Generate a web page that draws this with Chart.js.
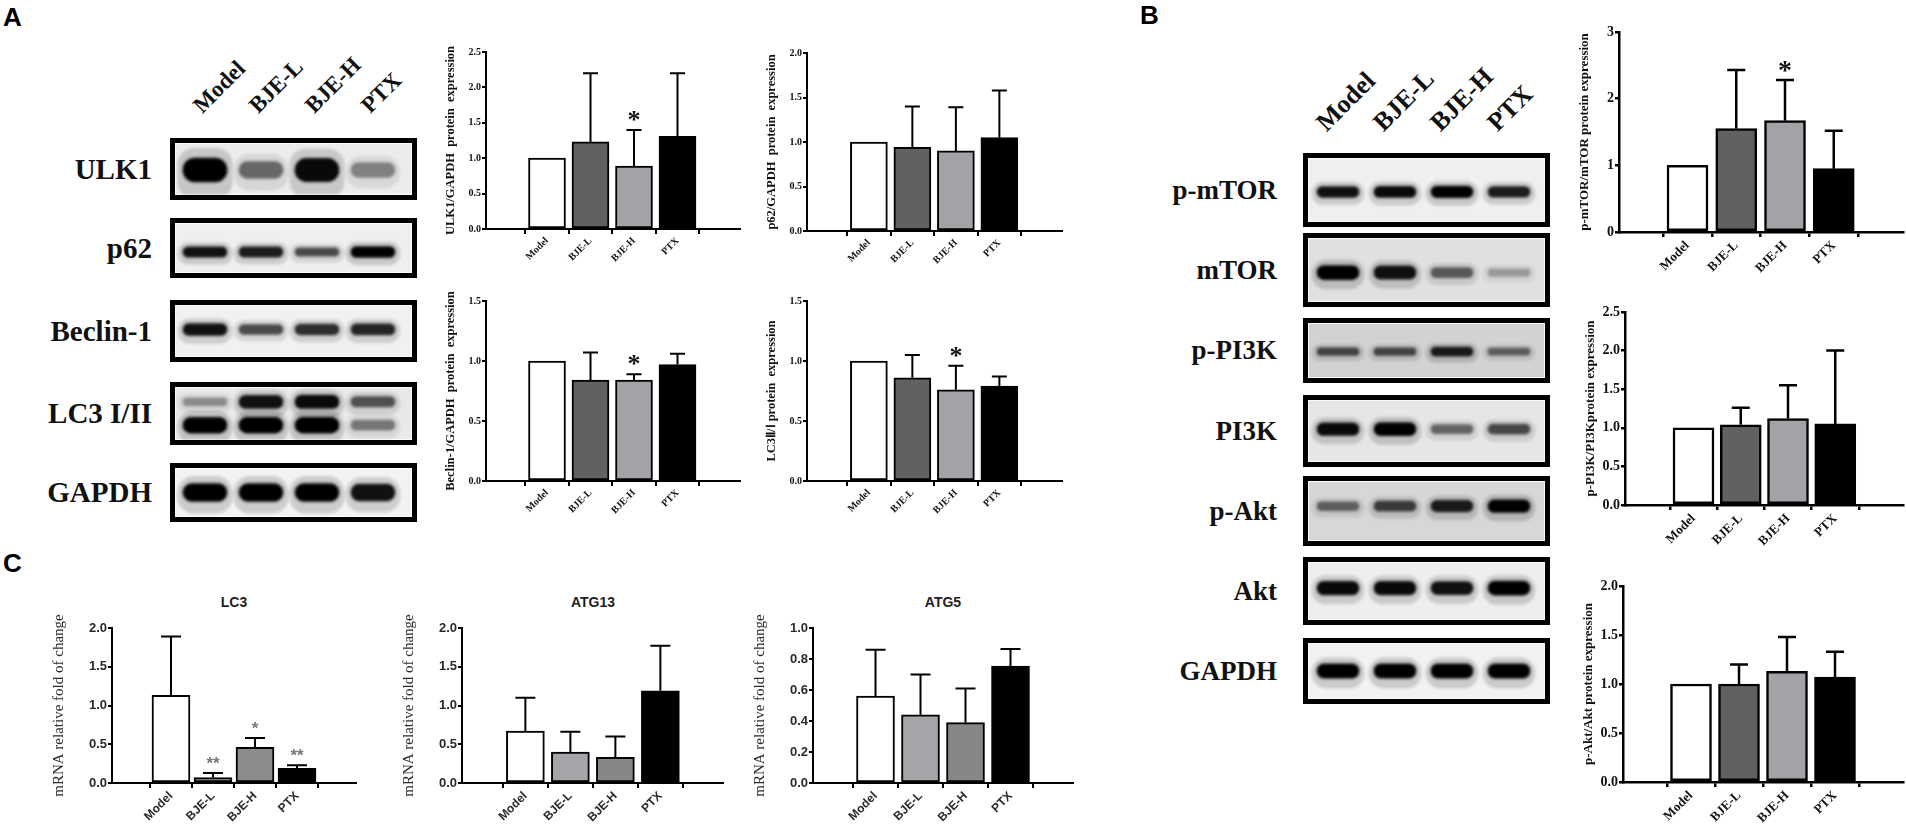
<!DOCTYPE html>
<html>
<head>
<meta charset="utf-8">
<script src="https://cdn.jsdelivr.net/npm/chart.js@4.4.0/dist/chart.umd.min.js"></script>
<style>
body { margin: 0; background: #fff; }
#page { position: relative; width: 1906px; height: 826px; overflow: hidden; background: #fff; }
.abs { position: absolute; }
.panel { font-family: "Liberation Sans", Arial, sans-serif; font-weight: bold; font-size: 26px; line-height: 26px; color: #000; }
.prot { font-family: "Liberation Serif", "Times New Roman", serif; font-weight: bold; text-align: right; white-space: nowrap; color: #111; }
.lane { font-family: "Liberation Serif", "Times New Roman", serif; font-weight: bold; white-space: nowrap; color: #111;
        transform: rotate(-45deg); transform-origin: 0 100%; }
.blot { box-sizing: border-box; border: 5px solid #000; box-shadow: inset 0 0 0 1px #fafafa; overflow: hidden; }
.blot canvas { filter: blur(1.8px); }
.ctitle { font-family: "Liberation Sans", Arial, sans-serif; font-weight: bold; font-size: 14px; line-height: 16px;
          color: #222; transform: translateX(-50%); white-space: nowrap; }
</style>
</head>
<body>
<div id="page"></div>
<script>
// groups on every x axis
const groups = ['Model', 'BJE-L', 'BJE-H', 'PTX'];

// A - protein / GAPDH ratios (mean, SD, significance)
const ulk1Mean = [1.0, 1.23, 0.89, 1.31];
const ulk1Err = [0, 0.97, 0.51, 0.89];
const ulk1Sig = ['', '', '*', ''];
const p62Mean = [1.0, 0.94, 0.90, 1.05];
const p62Err = [0, 0.46, 0.49, 0.53];
const p62Sig = ['', '', '', ''];
const beclinMean = [1.0, 0.84, 0.84, 0.97];
const beclinErr = [0, 0.23, 0.05, 0.09];
const beclinSig = ['', '', '*', ''];
const lc3RatioMean = [1.0, 0.86, 0.76, 0.79];
const lc3RatioErr = [0, 0.19, 0.20, 0.08];
const lc3RatioSig = ['', '', '*', ''];

// B - phospho / total ratios
const mtorMean = [1.0, 1.55, 1.67, 0.95];
const mtorErr = [0, 0.88, 0.61, 0.57];
const mtorSig = ['', '', '*', ''];
const pi3kMean = [1.0, 1.04, 1.12, 1.05];
const pi3kErr = [0, 0.22, 0.43, 0.95];
const pi3kSig = ['', '', '', ''];
const aktMean = [1.0, 1.0, 1.13, 1.07];
const aktErr = [0, 0.20, 0.35, 0.26];
const aktSig = ['', '', '', ''];

// C - mRNA relative fold of change
const lc3mMean = [1.13, 0.07, 0.46, 0.19];
const lc3mErr = [0.76, 0.06, 0.12, 0.04];
const lc3mSig = ['', '**', '*', '**'];
const atg13Mean = [0.67, 0.40, 0.33, 1.19];
const atg13Err = [0.43, 0.26, 0.27, 0.58];
const atg13Sig = ['', '', '', ''];
const atg5Mean = [0.56, 0.44, 0.39, 0.755];
const atg5Err = [0.30, 0.26, 0.22, 0.11];
const atg5Sig = ['', '', '', ''];

// western blot band intensities per lane (0 = none, 1 = saturated)
const bandULK1 = [1.0, 0.45, 0.95, 0.30];
const bandP62 = [0.90, 0.85, 0.60, 1.0];
const bandBeclin = [0.90, 0.60, 0.75, 0.80];
const bandLC3I = [0.25, 0.90, 0.95, 0.55];
const bandLC3II = [1.0, 1.0, 1.0, 0.35];
const bandGapdhA = [1.0, 1.0, 1.0, 0.90];
const bandPmTOR = [0.90, 0.95, 1.0, 0.85];
const bandMTOR = [1.0, 0.90, 0.50, 0.15];
const bandPPI3K = [0.60, 0.60, 0.85, 0.45];
const bandPI3K = [0.95, 1.0, 0.45, 0.60];
const bandPAkt = [0.45, 0.65, 0.85, 1.0];
const bandAkt = [0.95, 0.95, 0.90, 1.0];
const bandGapdhB = [1.0, 1.0, 1.0, 1.0];

const page = document.getElementById('page');
const SERIF = "'Liberation Serif', 'Times New Roman', serif";
const SANS = "'Liberation Sans', Arial, sans-serif";
Chart.defaults.font.family = SERIF;

function addText(cls, text, css) {
    const d = document.createElement('div');
    d.className = 'abs ' + cls;
    d.textContent = text;
    Object.assign(d.style, css);
    page.appendChild(d);
    return d;
}

// error bars + significance marks, drawn with the chart's own y scale
const errorBars = {
    id: 'errorBars',
    afterDatasetsDraw(chart) {
        const ds = chart.data.datasets[0];
        const ys = chart.scales.y;
        const ctx = chart.ctx;
        ctx.save();
        chart.getDatasetMeta(0).data.forEach((bar, i) => {
            const err = ds.errors[i];
            const yTop = ys.getPixelForValue(ds.means[i] + err);
            if (err > 0) {
                ctx.strokeStyle = '#000';
                ctx.lineWidth = ds.borderWidth;
                ctx.beginPath();
                ctx.moveTo(bar.x, bar.y);
                ctx.lineTo(bar.x, yTop);
                ctx.moveTo(bar.x - ds.cap / 2, yTop);
                ctx.lineTo(bar.x + ds.cap / 2, yTop);
                ctx.stroke();
            }
            if (ds.sig[i]) {
                ctx.fillStyle = ds.starColor;
                ctx.font = ds.starFont;
                ctx.textAlign = 'center';
                ctx.textBaseline = 'alphabetic';
                ctx.fillText(ds.sig[i], bar.x, yTop - ds.starGap);
            }
        });
        ctx.restore();
    }
};

function barChart(g, st, mean, err, sig, colors, yTitle) {
    const padTop = 14, padRight = 3;
    const W = g.right - g.axis + st.yW + padRight;
    const H = g.base - g.top + padTop + st.xH;
    const cv = document.createElement('canvas');
    cv.width = W; cv.height = H;
    cv.className = 'abs';
    cv.style.left = (g.axis - st.yW) + 'px';
    cv.style.top = (g.top - padTop) + 'px';
    page.appendChild(cv);
    const last = g.first + 3 * g.step;
    new Chart(cv, {
        type: 'bar',
        data: {
            datasets: [{
                data: mean.map((v, i) => ({ x: i, y: v })),
                means: mean,
                errors: err,
                sig: sig,
                backgroundColor: colors,
                borderColor: '#000',
                borderWidth: st.lw,
                borderSkipped: false,
                barThickness: st.barW,
                cap: st.cap,
                starFont: st.starFont,
                starColor: st.starColor,
                starGap: st.starGap
            }]
        },
        options: {
            responsive: false,
            animation: false,
            events: [],
            layout: { padding: { top: padTop, right: padRight, left: 0, bottom: 0 } },
            plugins: { legend: { display: false }, tooltip: { enabled: false } },
            scales: {
                x: {
                    type: 'linear',
                    min: -(g.first - g.axis) / g.step,
                    max: 3 + (g.right - last) / g.step,
                    afterBuildTicks: s => { s.ticks = [0, 1, 2, 3].map(v => ({ value: v })); },
                    afterFit: s => { s.height = st.xH; },
                    border: { color: '#000', width: st.lw },
                    grid: { drawOnChartArea: false, color: '#000', lineWidth: st.lw, tickLength: 5 },
                    ticks: {
                        autoSkip: false, maxRotation: 45, minRotation: 45, padding: 1,
                        color: st.color, font: { family: st.family, size: st.xFont, weight: 'bold' },
                        callback: v => groups[v]
                    }
                },
                y: {
                    min: 0, max: g.max,
                    afterFit: s => { s.width = st.yW; },
                    border: { color: '#000', width: st.lw },
                    grid: { drawOnChartArea: false, color: '#000', lineWidth: st.lw, tickLength: 4 },
                    ticks: {
                        stepSize: g.yStep, padding: 1, color: st.color,
                        font: { family: st.family, size: st.tickFont, weight: 'bold' },
                        callback: v => v.toFixed(g.dec)
                    },
                    title: {
                        display: true, text: yTitle, color: st.color, padding: 2,
                        font: { family: st.titleFamily, size: st.titleFont, weight: st.titleWeight }
                    }
                }
            }
        },
        plugins: [errorBars]
    });
}

function blot(bands, box, lay, bg) {
    const div = document.createElement('div');
    div.className = 'abs blot';
    Object.assign(div.style, { left: box.x + 'px', top: box.y + 'px', width: lay.w + 'px', height: box.h + 'px', background: bg });
    page.appendChild(div);
    const innerW = lay.w - 10, innerH = box.h - 10;
    const cv = document.createElement('canvas');
    cv.width = innerW; cv.height = innerH;
    div.appendChild(cv);
    const padL = lay.first - 1 - lay.step / 2;
    const padR = innerW - padL - 4 * lay.step;
    const sets = [];
    bands.forEach(b => {
        // faint smear round each band, then the band core
        sets.push({
            data: b.vals.map(v => { const h = b.t * (0.9 + 0.9 * v) / 2; return [b.c - h, b.c + h * 1.3]; }),
            backgroundColor: b.vals.map(v => 'rgba(0,0,0,' + (0.04 + 0.12 * v).toFixed(2) + ')'),
            borderWidth: 0, borderSkipped: false, borderRadius: 16,
            barThickness: lay.bandW + 10, grouped: false
        });
        sets.push({
            data: b.vals.map(v => { const h = b.t * (0.45 + 0.55 * v) / 2; return [b.c - h, b.c + h]; }),
            backgroundColor: b.vals.map(v => 'rgba(0,0,0,' + (0.15 + 0.85 * v).toFixed(2) + ')'),
            borderWidth: 0, borderSkipped: false, borderRadius: 14,
            barThickness: lay.bandW, grouped: false
        });
    });
    new Chart(cv, {
        type: 'bar',
        data: { labels: groups, datasets: sets },
        options: {
            responsive: false, animation: false, events: [],
            layout: { padding: { left: padL, right: padR, top: 0, bottom: 0 } },
            plugins: { legend: { display: false }, tooltip: { enabled: false } },
            scales: {
                x: { display: false, offset: true },
                y: { display: false, min: 0, max: 1, reverse: true }
            }
        }
    });
}

// ---------- styles per panel ----------
const colorsWB = ['#ffffff', '#616161', '#a3a3a7', '#000000'];
const colorsLC3 = ['#ffffff', '#8c8c8c', '#8c8c8c', '#000000'];
const colorsATG = ['#ffffff', '#a6a6aa', '#868686', '#000000'];

const stA = { yW: 45, xH: 44, lw: 2, barW: 37, cap: 15, family: SERIF, titleFamily: SERIF, titleWeight: 'bold',
              tickFont: 10, titleFont: 12.5, xFont: 10, color: '#111',
              starFont: 'bold 26px ' + SERIF, starColor: '#111', starGap: 2 };
const stB = { yW: 44, xH: 50, lw: 2.5, barW: 41, cap: 18, family: SERIF, titleFamily: SERIF, titleWeight: 'bold',
              tickFont: 14, titleFont: 13, xFont: 13, color: '#111',
              starFont: 'bold 28px ' + SERIF, starColor: '#111', starGap: 1 };
const stC = { yW: 64, xH: 43, lw: 2, barW: 38, cap: 20, family: SANS, titleFamily: SERIF, titleWeight: 'normal',
              tickFont: 13, titleFont: 15, xFont: 12, color: '#2a2a2a',
              starFont: 'bold 17px ' + SANS, starColor: '#777', starGap: 4 };

// ---------- panel A ----------
addText('panel', 'A', { left: '3px', top: '4px' });
const layA = { x: 170, w: 247, first: 31, step: 56, bandW: 44 };
const blotsA = [
    { name: 'ULK1', y: 138, h: 62, bg: '#ececec', bands: [{ vals: bandULK1, c: 0.52, t: 0.46 }] },
    { name: 'p62', y: 218, h: 60, bg: '#efefef', bands: [{ vals: bandP62, c: 0.58, t: 0.22 }] },
    { name: 'Beclin-1', y: 300, h: 62, bg: '#f1f1f1', bands: [{ vals: bandBeclin, c: 0.47, t: 0.24 }] },
    { name: 'LC3 I/II', y: 382, h: 63, bg: '#e9e9e9', bands: [{ vals: bandLC3I, c: 0.28, t: 0.26 }, { vals: bandLC3II, c: 0.72, t: 0.30 }] },
    { name: 'GAPDH', y: 463, h: 59, bg: '#f3f3f3', bands: [{ vals: bandGapdhA, c: 0.50, t: 0.36 }] }
];
blotsA.forEach(b => {
    blot(b.bands, { x: layA.x, y: b.y, h: b.h }, layA, b.bg);
    addText('prot', b.name, { right: (1906 - 152) + 'px', top: b.y + 'px', height: b.h + 'px', lineHeight: b.h + 'px', fontSize: '29px' });
});
groups.forEach((gname, i) => {
    const cx = layA.x + 4 + layA.first + i * layA.step;
    addText('lane', gname, { left: cx + 'px', top: (117 - 23) + 'px', fontSize: '23px', lineHeight: '23px' });
});

barChart({ axis: 486, top: 52, base: 229, first: 525, step: 58, right: 740, max: 2.5, yStep: 0.5, dec: 1 },
    stA, ulk1Mean, ulk1Err, ulk1Sig, colorsWB, 'ULK1/GAPDH  protein  expression');
barChart({ axis: 807, top: 53, base: 231, first: 847, step: 58, right: 1062, max: 2.0, yStep: 0.5, dec: 1 },
    stA, p62Mean, p62Err, p62Sig, colorsWB, 'p62/GAPDH  protein  expression');
barChart({ axis: 486, top: 301, base: 481, first: 525, step: 58, right: 740, max: 1.5, yStep: 0.5, dec: 1 },
    stA, beclinMean, beclinErr, beclinSig, colorsWB, 'Beclin-1/GAPDH  protein  expression');
barChart({ axis: 807, top: 301, base: 481, first: 847, step: 58, right: 1062, max: 1.5, yStep: 0.5, dec: 1 },
    stA, lc3RatioMean, lc3RatioErr, lc3RatioSig, colorsWB, 'LC3Ⅱ/Ⅰ protein  expression');

// ---------- panel B ----------
addText('panel', 'B', { left: '1140px', top: '2px' });
const layB = { x: 1303, w: 247, first: 31, step: 57, bandW: 42 };
const blotsB = [
    { name: 'p-mTOR', y: 153, h: 74, bg: '#efefef', bands: [{ vals: bandPmTOR, c: 0.53, t: 0.18 }] },
    { name: 'mTOR', y: 233, h: 74, bg: '#e0e0e0', bands: [{ vals: bandMTOR, c: 0.54, t: 0.22 }] },
    { name: 'p-PI3K', y: 318, h: 65, bg: '#d2d2d2', bands: [{ vals: bandPPI3K, c: 0.52, t: 0.18 }] },
    { name: 'PI3K', y: 395, h: 72, bg: '#e6e6e6', bands: [{ vals: bandPI3K, c: 0.47, t: 0.21 }] },
    { name: 'p-Akt', y: 476, h: 70, bg: '#d7d7d7', bands: [{ vals: bandPAkt, c: 0.42, t: 0.21 }] },
    { name: 'Akt', y: 557, h: 68, bg: '#eeeeee', bands: [{ vals: bandAkt, c: 0.45, t: 0.24 }] },
    { name: 'GAPDH', y: 638, h: 66, bg: '#f2f2f2', bands: [{ vals: bandGapdhB, c: 0.50, t: 0.26 }] }
];
blotsB.forEach(b => {
    blot(b.bands, { x: layB.x, y: b.y, h: b.h }, layB, b.bg);
    addText('prot', b.name, { right: (1906 - 1277) + 'px', top: b.y + 'px', height: b.h + 'px', lineHeight: b.h + 'px', fontSize: '27px' });
});
groups.forEach((gname, i) => {
    const cx = layB.x + 4 + layB.first + i * layB.step;
    addText('lane', gname, { left: (cx - 8) + 'px', top: (136 - 26) + 'px', fontSize: '26px', lineHeight: '26px' });
});

barChart({ axis: 1619, top: 32, base: 232, first: 1663, step: 65, right: 1903, max: 3, yStep: 1, dec: 0 },
    stB, mtorMean, mtorErr, mtorSig, colorsWB, 'p-mTOR/mTOR protein expression');
barChart({ axis: 1625, top: 312, base: 505, first: 1670, step: 63, right: 1903, max: 2.5, yStep: 0.5, dec: 1 },
    stB, pi3kMean, pi3kErr, pi3kSig, colorsWB, 'p-PI3K/PI3Kprotein expression');
barChart({ axis: 1623, top: 586, base: 782, first: 1667, step: 64, right: 1903, max: 2.0, yStep: 0.5, dec: 1 },
    stB, aktMean, aktErr, aktSig, colorsWB, 'p-Akt/Akt protein expression');

// ---------- panel C ----------
addText('panel', 'C', { left: '3px', top: '550px' });
const cTitles = [['LC3', 234], ['ATG13', 593], ['ATG5', 943]];
cTitles.forEach(t => addText('ctitle', t[0], { left: t[1] + 'px', top: '594px' }));

barChart({ axis: 112, top: 628, base: 783, first: 150, step: 56, right: 356, max: 2.0, yStep: 0.5, dec: 1 },
    stC, lc3mMean, lc3mErr, lc3mSig, colorsLC3, 'mRNA relative fold of change');
barChart({ axis: 462, top: 628, base: 783, first: 503, step: 60, right: 723, max: 2.0, yStep: 0.5, dec: 1 },
    stC, atg13Mean, atg13Err, atg13Sig, colorsATG, 'mRNA relative fold of change');
barChart({ axis: 813, top: 628, base: 783, first: 853, step: 60, right: 1073, max: 1.0, yStep: 0.2, dec: 1 },
    stC, atg5Mean, atg5Err, atg5Sig, colorsATG, 'mRNA relative fold of change');
</script>
</body>
</html>
